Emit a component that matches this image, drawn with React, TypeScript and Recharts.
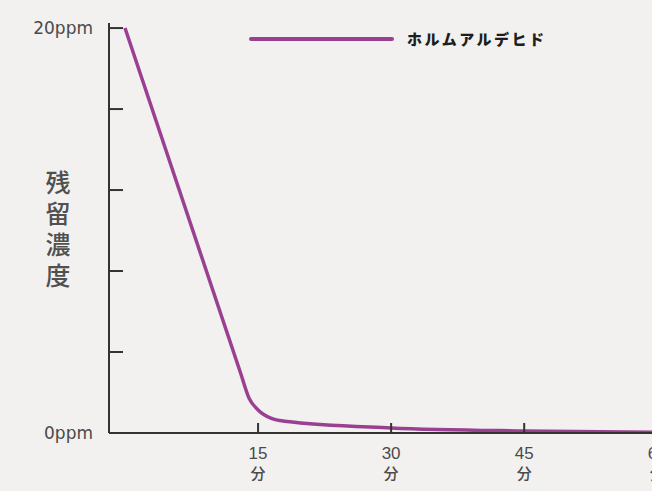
import React from "react"
import { LineChart, Line, XAxis, YAxis, Legend } from "recharts"

// 経過時間(分) と ホルムアルデヒド残留濃度(ppm)
const minutes = [0, 13, 14, 15, 16.5, 18, 30, 45, 60]
const formaldehyde = [20, 3.0, 1.7, 1.14, 0.72, 0.58, 0.25, 0.1, 0.04]
const seriesName = "ホルムアルデヒド"

const xTicks = [15, 30, 45, 60]
const minuteUnit = "分"
const yTicks = [0, 4, 8, 12, 16, 20]
const yTickLabels: Record<number, string> = { 0: "0ppm", 20: "20ppm" }
const yTitle = ["残", "留", "濃", "度"]

const data = minutes.map((m, i) => ({ minute: m, value: formaldehyde[i] }))

const textColor = "#4a4a4a"
const axisColor = "#333"
const lineColor = "#9a4093"

const YTick = (props: any) => {
  const { x, y, payload } = props
  const label = yTickLabels[payload.value]
  return (
    <g>
      <line x1={x} x2={x + 14} y1={y} y2={y} stroke={axisColor} strokeWidth={2} />
      {label && (
        <text
          x={x - 16}
          y={y}
          textAnchor="end"
          dominantBaseline="central"
          fontFamily="DejaVu Sans"
          fontSize={17}
          fill={textColor}
        >
          {label}
        </text>
      )}
    </g>
  )
}

const XTick = (props: any) => {
  const { x, y, payload } = props
  return (
    <g>
      <line x1={x} x2={x} y1={y - 10} y2={y} stroke={axisColor} strokeWidth={2} />
      <text
        x={x}
        y={y + 20}
        textAnchor="middle"
        dominantBaseline="central"
        fontFamily="Liberation Sans"
        fontSize={17}
        fill={textColor}
      >
        {payload.value}
      </text>
      <text
        x={x}
        y={y + 39}
        textAnchor="middle"
        dominantBaseline="central"
        fontFamily="Noto Sans CJK JP"
        fontWeight={500}
        fontSize={15}
        fill={textColor}
      >
        {minuteUnit}
      </text>
    </g>
  )
}

const YTitle = (props: any) => {
  const { viewBox } = props
  const cx = viewBox.x + 58
  const top = 181
  return (
    <g>
      {yTitle.map((c, i) => (
        <text
          key={i}
          x={cx}
          y={top + i * 31}
          textAnchor="middle"
          dominantBaseline="central"
          fontFamily="Noto Sans CJK JP"
          fontWeight={500}
          fontSize={25}
          fill="#505050"
        >
          {c}
        </text>
      ))}
    </g>
  )
}

const renderLegend = (props: any) => {
  const { payload } = props
  return (
    <div style={{ display: "flex", alignItems: "center" }}>
      {payload.map((p: any) => (
        <div key={p.value} style={{ display: "flex", alignItems: "center" }}>
          <svg width={145} height={8}>
            <line x1={2} x2={143} y1={4} y2={4} stroke={p.color} strokeWidth={4} strokeLinecap="round" />
          </svg>
          <span
            style={{
              marginLeft: 13,
              fontFamily: "Noto Sans CJK JP",
              fontWeight: 900,
              fontSize: 15,
              letterSpacing: 2.5,
              color: "#1e1e1e",
            }}
          >
            {p.value}
          </span>
        </div>
      ))}
    </div>
  )
}

const App = () => {
  return (
    <div
      style={{
        position: "absolute",
        left: 0,
        top: 0,
        width: 652,
        height: 491,
        overflow: "hidden",
        background: "#f2f1ef",
      }}
    >
      <LineChart
        width={675}
        height={491}
        data={data}
        margin={{ top: 23, right: 0, bottom: 0, left: 0 }}
      >
        <XAxis
          type="number"
          dataKey="minute"
          domain={[0, 62]}
          padding={{ left: 16, right: 0 }}
          ticks={xTicks}
          height={58}
          tickSize={0}
          tickMargin={0}
          tickLine={false}
          axisLine={{ stroke: axisColor, strokeWidth: 2 }}
          tick={<XTick />}
        />
        <YAxis
          type="number"
          domain={[0, 20.25]}
          ticks={yTicks}
          width={109}
          tickSize={0}
          tickMargin={0}
          tickLine={false}
          axisLine={{ stroke: axisColor, strokeWidth: 2 }}
          tick={<YTick />}
          label={{ content: <YTitle /> }}
        />
        <Legend
          layout="horizontal"
          verticalAlign="middle"
          align="center"
          wrapperStyle={{ top: 28, left: 249, width: "auto" }}
          content={renderLegend}
        />
        <Line
          type="monotone"
          dataKey="value"
          name={seriesName}
          stroke={lineColor}
          strokeWidth={3.5}
          dot={false}
          isAnimationActive={false}
        />
      </LineChart>
    </div>
  )
}

export default App
